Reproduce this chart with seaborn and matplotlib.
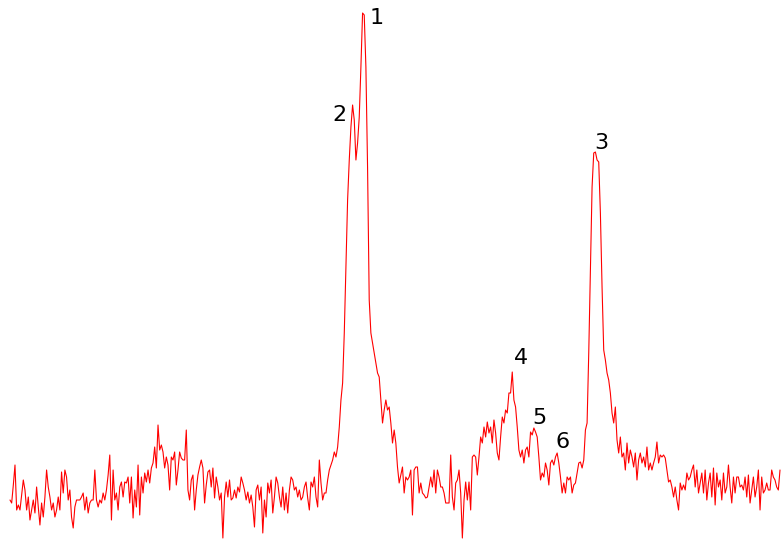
import matplotlib
matplotlib.use('Agg')
import matplotlib.pyplot as plt
import numpy as np
import pandas as pd
import seaborn as sns

# intensity readings of the spectrum, left to right, split by region
base_left = [40, 37, 55, 75, 30, 35, 30, 45, 60, 50,
             30, 43, 20, 30, 40, 27, 53, 33, 15, 37,
             23, 43, 70, 53, 43, 30, 37, 23, 30, 43,
             30, 68, 47, 70, 63, 40, 50, 23, 12, 33,
             40, 40, 40, 43, 47, 30, 43, 27, 37, 40,
             40, 70, 40, 33, 40, 37, 47, 40, 50, 65,
             85, 20, 70, 40, 47, 30, 53, 58, 43, 58,
             57, 63, 37]
bump = [63, 22, 50, 33, 75, 25, 63, 47, 67, 58,
        70, 57, 72, 77, 93, 72, 115, 90, 95, 88,
        72, 83, 75, 50, 83, 80, 88, 55, 70, 88,
        82, 80, 80, 110, 50, 40, 60, 65, 30, 50,
        65, 73, 80, 72, 37, 55, 68, 70, 53, 72,
        42, 63, 53, 40, 47, 2, 43, 58, 43, 60,
        40, 42, 50, 42, 53, 48, 63, 57, 50, 40,
        48, 37, 45, 33, 13]
base_mid = [50, 55, 40, 53, 7, 40, 23, 57, 47, 60,
            27, 43, 63, 57, 43, 33, 53, 30, 47, 27,
            50, 63, 60, 50, 53, 43, 50, 40, 43, 53,
            58, 42, 30, 58, 53, 63, 43, 33, 80, 57,
            40, 47, 47, 60, 70, 75, 80, 88, 83, 93,
            113]
peak_12 = [140, 157, 207, 273, 340, 380, 413, 435, 420, 380,
           397, 423, 473, 527, 525, 473, 373, 240, 207, 197,
           187, 177, 167, 163, 140, 117, 130, 140, 130, 133,
           117, 97, 110, 97, 73]
shoulder = [57, 65, 73, 47, 63, 60, 63, 70, 25, 70,
            73, 73, 47, 57, 47, 45, 42, 43, 53, 63,
            53, 70, 47, 70, 63, 53, 53, 47, 37, 37,
            37, 85, 43, 30, 57, 60, 70, 47, 2, 40,
            58, 40, 58, 30, 83, 85, 83, 65, 83, 103,
            97, 113, 103, 118, 107, 113, 97, 120, 107, 87,
            80, 103, 123, 117, 130, 127, 147]
peaks_456 = [147, 168, 140, 133, 113, 90, 83, 90, 77, 90,
             93, 83, 108, 105, 112, 108, 103, 83, 60, 67,
             63, 77, 70, 55, 77, 80, 75, 83, 87, 77,
             63, 47, 57, 47, 63, 60, 63, 47, 55, 57,
             67, 77, 78, 72, 80, 110, 117]
peak_3 = [187, 270, 353, 387, 388, 380, 378, 327, 253, 190,
          180, 167, 160, 147, 127, 117, 133, 100, 87, 103,
          83, 87, 70, 97, 77, 90, 83, 73, 87, 60,
          80, 87, 77, 83, 73, 93, 70, 77, 70]
base_right = [77, 83, 98, 77, 85, 83, 85, 82, 70, 58,
              60, 53, 43, 53, 40, 30, 57, 50, 55, 50,
              67, 60, 63, 70, 75, 53, 70, 47, 57, 67,
              47, 70, 40, 57, 67, 43, 72, 35, 67, 53,
              60, 40, 67, 47, 53, 75, 53, 37, 63, 47,
              63, 63, 53, 55, 50, 63, 43, 65, 37, 50,
              63, 43, 53, 70, 30, 63, 47, 50, 57, 50,
              50, 70, 63, 60, 53, 50, 70]

peak_labels = ['1', '2', '3', '4', '5', '6']
peak_index = [212, 206, 352, 302, 315, 329]

intensity = base_left + bump + base_mid + peak_12 + shoulder + peaks_456 + peak_3 + base_right
df = pd.DataFrame({'point': np.arange(len(intensity)), 'intensity': intensity})

sns.set_style('white')
fig = plt.figure(figsize=(7.81, 5.41), dpi=100)
ax = fig.add_axes([0, 0, 1, 1])
sns.lineplot(data=df, x='point', y='intensity', color='#ff0000', linewidth=0.8,
             estimator=None, ax=ax)

# label offsets (pixels) from each peak top
offsets = [(14, -5), (-13, -10), (6, 9), (9, 14), (6, 10), (5, 11)]
for lab, i, off in zip(peak_labels, peak_index, offsets):
    ax.annotate(lab, xy=(i, intensity[i]), xytext=off, textcoords='offset pixels',
                ha='center', va='center', fontsize=16, color='black')

step = 770 / (len(intensity) - 1)
ax.set_xlim(-10 / step, 771 / step)
ax.set_ylim(-1, 540)
ax.set_axis_off()

plt.savefig('out.png', dpi=100)
plt.close()
